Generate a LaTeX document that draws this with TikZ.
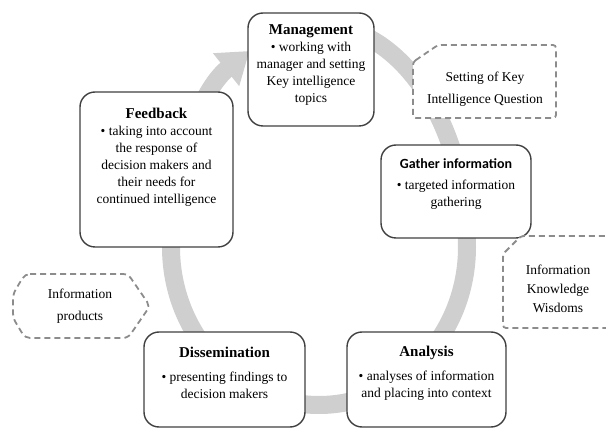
\documentclass[tikz,border=0pt]{standalone}
\usepackage{fontspec}
\setmainfont{Liberation Serif}
\newfontfamily\gatherfont{Carlito}
\usetikzlibrary{arrows.meta}

% heading of a stage box
\newcommand\stagetitle[1]{{\fontsize{15}{17}\selectfont\bfseries #1}}

\begin{document}
\begin{tikzpicture}[x=1pt,y=-1pt,
  stage/.style={draw=black!75, line width=1.4pt, rounded corners=15pt, fill=white, inner sep=0pt},
  note/.style={draw=black!45, line width=1.8pt, dash pattern=on 6pt off 4pt, fill=white},
  body/.style={align=center, font=\fontsize{13.5}{17}\selectfont, text=black, inner sep=0pt},
  ring/.style={draw=black!19, line width=18pt}
]
\useasboundingbox (0,0) rectangle (606,430);
\clip (0,0) rectangle (606,430);

% the grey cycle arrow running clockwise behind the stages
\draw[ring, -{Triangle[width=40pt,length=30pt]}]
  ({319+148*cos(285)},{247+222*sin(285)})
  arc[start angle=285, end angle=360, x radius=148, y radius=222]
  arc[start angle=0, end angle=180, x radius=148, y radius=158]
  arc[start angle=180, end angle=242, x radius=148, y radius=222];

% stages of the cycle
\node[stage, minimum width=126pt, minimum height=113pt] (mgmt) at (311,69.5) {};
\node[stage, minimum width=150pt, minimum height=93pt] (gather) at (456,191.5) {};
\node[stage, minimum width=159pt, minimum height=95pt] (analysis) at (426.5,379.5) {};
\node[stage, minimum width=161pt, minimum height=95pt] (dissem) at (224.5,379.5) {};
\node[stage, minimum width=153pt, minimum height=155pt] (feedback) at (156.5,169.5) {};

\node[body] (mgmt-t) at (311,65)
  {\stagetitle{Management}\\• working with\\manager and setting\\Key intelligence\\topics};
\node[body] (gather-t) at (456,184)
  {{\gatherfont\fontsize{14}{16}\selectfont\bfseries Gather information}\\[4pt]• targeted information\\gathering};
\node[body] (analysis-t) at (426.5,373)
  {\stagetitle{Analysis}\\[7pt]• analyses of information\\and placing into context};
\node[body] (dissem-t) at (224.5,373)
  {\stagetitle{Dissemination}\\[7pt]• presenting findings to\\decision makers};
\node[body] (feedback-t) at (156.5,157.5)
  {\stagetitle{Feedback}\\• taking into account\\the response of\\decision makers and\\their needs for\\continued intelligence};

% side notes
\draw[note, rounded corners=3pt] (413,62) -- (438,45) -- (556,45) -- (556,118) -- (413,118) -- cycle;
\node[body, font=\fontsize{13.5}{21.5}\selectfont] (kiq) at (485,89)
  {Setting of Key\\Intelligence Question};

\draw[note, rounded corners=3pt] (503,254) -- (521,236) -- (614,236) -- (614,328) -- (503,328) -- cycle;
\node[body, font=\fontsize{13.5}{19}\selectfont] (ikw) at (558,289)
  {Information\\Knowledge\\Wisdoms};

\draw[note, rounded corners=5pt] (25,274) -- (128,274) -- (150,306) -- (128,338) -- (25,338)
  -- (13,318) -- (13,294) -- cycle;
\node[body, font=\fontsize{13.5}{22}\selectfont] (products) at (80,306)
  {Information\\products};
\end{tikzpicture}
\end{document}
